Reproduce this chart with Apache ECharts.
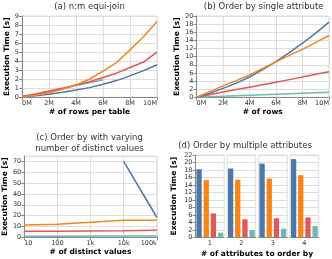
<!DOCTYPE html>
<html><head><meta charset="utf-8">
<script src="https://cdn.jsdelivr.net/npm/echarts@6/dist/echarts.min.js"></script>
<style>html,body{margin:0;padding:0;background:#fff}#c{width:332px;height:259px}</style>
</head><body><div id="c"></div>
<script>
// ---- data ----
const rowsM = [0,1,2,3,4,5,6,7,8,9,10];
const aBlue   = [0.05,0.18,0.35,0.55,0.8,1.07,1.45,1.85,2.37,2.95,3.6];
const aOrange = [0.05,0.22,0.5,0.9,1.37,2.0,2.9,3.85,5.25,6.7,8.4];
const aRed    = [0.1,0.37,0.7,1.0,1.37,1.73,2.2,2.67,3.3,3.9,5.0];
const aTeal   = [0.08,0.35,0.65,0.98,1.3,1.6,1.95,null,null,null,null];

const bBlue   = [0,1.0,2.2,3.5,5.0,6.8,8.8,11.0,13.3,15.8,18.5];
const bOrange = [0,1.4,2.8,4.1,5.5,7.1,8.7,10.3,11.8,13.5,15.2];
const bRed    = [0,0.65,1.3,1.9,2.5,3.1,3.7,4.35,5.0,5.65,6.3];
const bTeal   = [0,0.12,0.25,0.38,0.5,0.62,0.75,0.88,1.0,1.12,1.25];

const distinct = [10,100,1000,10000,100000];
const distinctLabels = ['10','100','1k','10k','100k'];
const cBlue   = [null,null,null,70,18.5];
const cOrange = [11.3,12.0,13.8,15.7,15.8];
const cRed    = [5.6,5.6,5.8,6.0,6.5];
const cTeal   = [1.0,1.0,1.1,1.2,1.3];

const attrCounts = ['1','2','3','4'];
const dBlue   = [18.2,18.4,19.7,20.9];
const dOrange = [15.3,15.4,15.7,16.6];
const dRed    = [6.4,4.8,5.1,5.3];
const dTeal   = [1.25,1.95,2.3,3.0];

// ---- style ----
const COLORS = ['#4c78a8','#f58518','#e45756','#72b7b2'];
const FONT = 'DejaVu Sans';
const axisBase = () => ({
  axisLine:{show:true,lineStyle:{color:'#888',width:1}},
  axisTick:{show:true,length:3,lineStyle:{color:'#888'}},
  axisLabel:{fontSize:6.5,color:'#333',fontFamily:FONT,margin:3},
  splitLine:{show:true,lineStyle:{color:'#ddd',width:1}},
  nameTextStyle:{fontSize:7.5,fontWeight:'bold',color:'#000',fontFamily:FONT},
  nameLocation:'middle'
});
function pairs(xs, ys){ const out=[]; xs.forEach((x,i)=>{ if(ys[i]!=null) out.push([x,ys[i]]); }); return out; }
function lineSeries(xi, xs, ys, color){
  return {type:'line',xAxisIndex:xi,yAxisIndex:xi,data:pairs(xs,ys),showSymbol:false,symbol:'none',
    lineStyle:{color:color,width:1.5},itemStyle:{color:color},animation:false,z:2};
}

const grids = [
  {left:22,top:16,width:135,height:81.3},
  {left:196.5,top:16,width:134.5,height:81.3},
  {left:22.3,top:156,width:134.5,height:81.3},
  {left:195.5,top:155,width:28.7,height:82.3},
  {left:227,top:155,width:28.7,height:82.3},
  {left:258.5,top:155,width:28.7,height:82.3},
  {left:290,top:155,width:28.7,height:82.3}
].map(g=>Object.assign({show:true,borderColor:'#ddd',borderWidth:1,containLabel:false},g));

const xAxes = [], yAxes = [];
// (a)
xAxes.push(Object.assign(axisBase(),{gridIndex:0,type:'value',min:0,max:10,interval:2,name:'# of rows per table',nameGap:11}));
xAxes[0].axisLabel = Object.assign({},xAxes[0].axisLabel,{formatter:'{value}M',alignMinLabel:'left',alignMaxLabel:'right'});
yAxes.push(Object.assign(axisBase(),{gridIndex:0,type:'value',min:0,max:9,interval:1,name:'Execution Time [s]',nameGap:11}));
// (b)
xAxes.push(Object.assign(axisBase(),{gridIndex:1,type:'value',min:0,max:10,interval:2,name:'# of rows',nameGap:11}));
xAxes[1].axisLabel = Object.assign({},xAxes[1].axisLabel,{formatter:'{value}M',alignMinLabel:'left',alignMaxLabel:'right'});
yAxes.push(Object.assign(axisBase(),{gridIndex:1,type:'value',min:0,max:20,interval:2,name:'Execution Time [s]',nameGap:15}));
// (c)
xAxes.push(Object.assign(axisBase(),{gridIndex:2,type:'log',logBase:10,min:10,max:100000,name:'# of distinct values',nameGap:11}));
xAxes[2].axisLabel = Object.assign({},xAxes[2].axisLabel,{alignMinLabel:'left',alignMaxLabel:'right',
  formatter:v=>{const i=distinct.indexOf(Math.round(v)); return i>=0?distinctLabels[i]:'';}});
xAxes[2].minorTick={show:false};
yAxes.push(Object.assign(axisBase(),{gridIndex:2,type:'value',min:0,max:75,interval:10,name:'Execution Time [s]',nameGap:12}));
yAxes[2].axisLabel = Object.assign({},yAxes[2].axisLabel,{showMaxLabel:false});
// (d) facets
attrCounts.forEach((lab,k)=>{
  const xa = Object.assign(axisBase(),{gridIndex:3+k,type:'category',data:['s1','s2','s3','s4'],name:lab,nameGap:3});
  xa.axisLabel={show:false}; xa.axisTick={show:false}; xa.splitLine={show:false};
  xa.nameTextStyle={fontSize:6.5,color:'#333',fontFamily:FONT};
  xAxes.push(xa);
  const ya = Object.assign(axisBase(),{gridIndex:3+k,type:'value',min:0,max:22,interval:2});
  if(k===0){ ya.name='Execution Time [s]'; ya.nameGap=17; }
  else { ya.axisLabel={show:false}; ya.axisTick={show:false}; ya.axisLine={show:false}; }
  yAxes.push(ya);
});

const series = [];
[[aTeal,3],[aBlue,0],[aRed,2],[aOrange,1]].forEach(([d,c])=>series.push(lineSeries(0,rowsM,d,COLORS[c])));
[[bTeal,3],[bRed,2],[bBlue,0],[bOrange,1]].forEach(([d,c])=>series.push(lineSeries(1,rowsM,d,COLORS[c])));
[[cTeal,3],[cRed,2],[cOrange,1],[cBlue,0]].forEach(([d,c])=>series.push(lineSeries(2,distinct,d,COLORS[c])));
attrCounts.forEach((lab,k)=>{
  const vals=[dBlue[k],dOrange[k],dRed[k],dTeal[k]];
  series.push({type:'bar',xAxisIndex:3+k,yAxisIndex:3+k,barWidth:5.3,animation:false,
    data:vals.map((v,i)=>({value:v,itemStyle:{color:COLORS[i]}}))});
});

const tStyle = {fontSize:8.5,fontWeight:'normal',color:'#333',fontFamily:FONT,lineHeight:11};
const titles = [
  {text:'(a) n:m equi-join',left:89.5,top:1},
  {text:'(b) Order by single attribute',left:263.7,top:1},
  {text:'(c) Order by with varying\nnumber of distinct values',left:89.5,top:132},
  {text:'(d) Order by multiple attributes',left:245,top:140},
].map(t=>Object.assign({textAlign:'center',padding:0,textStyle:tStyle},t));
titles.push({text:'# of attributes to order by',left:257,top:250,textAlign:'center',padding:0,
  textStyle:{fontSize:7.5,fontWeight:'bold',color:'#000',fontFamily:FONT}});

const chart = echarts.init(document.getElementById('c'),null,{renderer:'canvas'});
chart.setOption({animation:false,backgroundColor:'#fff',title:titles,grid:grids,xAxis:xAxes,yAxis:yAxes,series:series});
</script></body></html>
